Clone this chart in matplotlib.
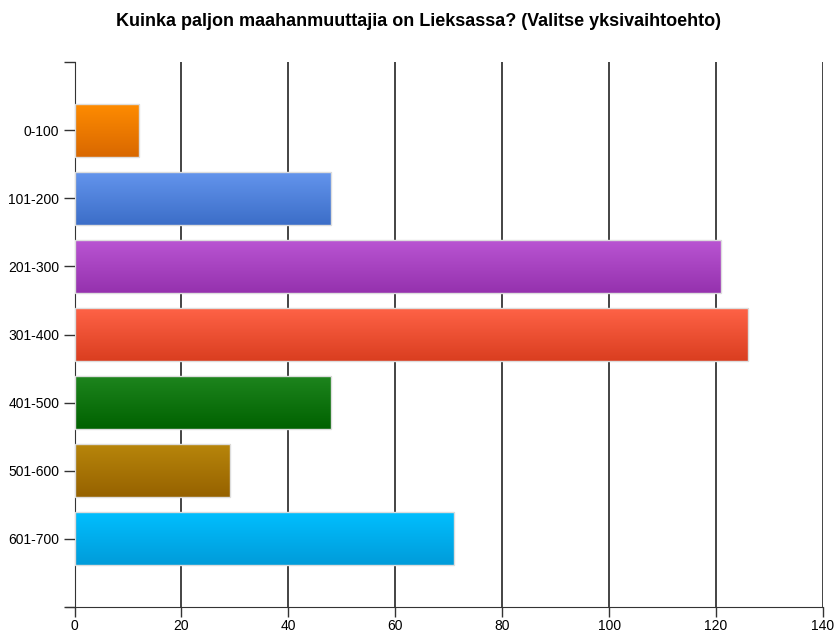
import numpy as np
import matplotlib
matplotlib.use("Agg")
import matplotlib.pyplot as plt
from matplotlib.colors import LinearSegmentedColormap

title = "Kuinka paljon maahanmuuttajia on Lieksassa? (Valitse yksivaihtoehto)"
categories = ["0-100", "101-200", "201-300", "301-400", "401-500", "501-600", "601-700"]
values = [12, 48, 121, 126, 48, 29, 71]
top_colors = ["#FF8C00", "#6495ED", "#BA55D3", "#FF6347", "#1E851E", "#B8860B", "#00BFFF"]
bottom_colors = ["#D96800", "#3C6EC8", "#9532AE", "#DA3E20", "#006200", "#966200", "#009CDA"]
xticks = [0, 20, 40, 60, 80, 100, 120, 140]

plt.rcParams['font.family'] = ['Liberation Sans Narrow', 'Liberation Sans', 'DejaVu Sans']

fig = plt.figure(figsize=(8.36, 6.32), dpi=100)
ax = fig.add_axes([74.5/836, 25/632, (823-74.5)/836, (607-62)/632])

y = np.arange(len(categories))
bars = ax.barh(y, values, height=0.78, color='none', edgecolor='#DDDDDD', linewidth=1.0, zorder=3)

grad = np.linspace(0, 1, 64).reshape(-1, 1)
for patch, tc, bc in zip(bars.patches, top_colors, bottom_colors):
    bb = patch.get_bbox()
    cmap = LinearSegmentedColormap.from_list("g", [tc, bc])
    im = ax.imshow(grad, cmap=cmap, aspect='auto',
                   extent=[bb.x0, bb.x1, bb.y1, bb.y0], origin='upper', zorder=2)
    im.set_clip_path(patch)

ax.set_xlim(0, 140)
ax.set_ylim(len(categories), -1)
ax.set_xticks(xticks)
ax.set_xticklabels([str(t) for t in xticks], fontsize=10)
ax.set_yticks(y)
ax.set_yticklabels(categories, fontsize=10)
ax.set_yticks([-1, len(categories)], minor=True)
ax.tick_params(axis='y', which='both', length=8, width=1, color='#333333', pad=3)
ax.tick_params(axis='x', length=7, width=1, color='#333333', pad=2)
ax.grid(axis='x', color='#111111', linewidth=1.1, zorder=1)
ax.set_axisbelow(True)
for s in ['top', 'right']:
    ax.spines[s].set_visible(False)
ax.spines['left'].set_color('#333333')
ax.spines['bottom'].set_color('#333333')
ax.spines['bottom'].set_bounds(-1.5, 140)

fig.text(0.5, 1 - 21/632, title, ha='center', va='center', fontsize=13, fontweight='bold',
         family=['Liberation Sans', 'DejaVu Sans'])

fig.savefig("out.png", dpi=100)
